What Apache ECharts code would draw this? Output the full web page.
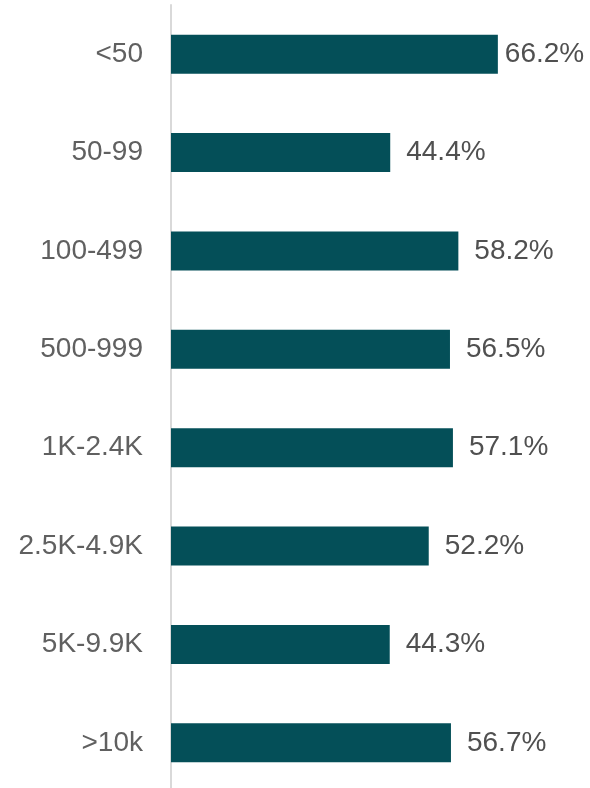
<!DOCTYPE html>
<html>
<head>
<meta charset="utf-8">
<script src="https://cdn.jsdelivr.net/npm/echarts@6/dist/echarts.min.js"></script>
<style>
  html, body { margin: 0; padding: 0; background: #fff; overflow: hidden; }
  /* chart runs a few px past the bottom edge, like the reference */
  #chart { width: 590px; height: 792px; }
</style>
</head>
<body>
<div id="chart"></div>
<script>
const categories = ['<50', '50-99', '100-499', '500-999', '1K-2.4K', '2.5K-4.9K', '5K-9.9K', '>10k']
const values = [66.2, 44.4, 58.2, 56.5, 57.1, 52.2, 44.3, 56.7]

const myChart = echarts.init(document.getElementById('chart'))

// the longest bar's label sits closer to the bar so it fits
const barData = values.map((v, i) => {
  const item = { value: v }
  if (i === 0) item.label = { distance: 7 }
  return item
})

const option = {
  animation: false,
  grid: {
    left: 171,
    right: 24,
    top: 5,
    bottom: 0
  },
  xAxis: {
    type: 'value',
    min: 0,
    max: 80,
    show: false
  },
  yAxis: {
    type: 'category',
    inverse: true,
    data: categories,
    axisLine: { show: true, lineStyle: { color: '#d9d9d9', width: 2 } },
    axisTick: { show: false },
    axisLabel: {
      margin: 28,
      fontSize: 28,
      color: '#606060',
      fontFamily: 'Liberation Sans'
    }
  },
  series: [
    {
      type: 'bar',
      data: barData,
      barWidth: 39,
      itemStyle: { color: '#044f58' },
      label: {
        show: true,
        position: 'right',
        distance: 16,
        fontSize: 28,
        color: '#505050',
        fontFamily: 'Liberation Sans',
        formatter: p => p.value.toFixed(1) + '%'
      }
    }
  ]
}

option && myChart.setOption(option)
</script>
</body>
</html>
